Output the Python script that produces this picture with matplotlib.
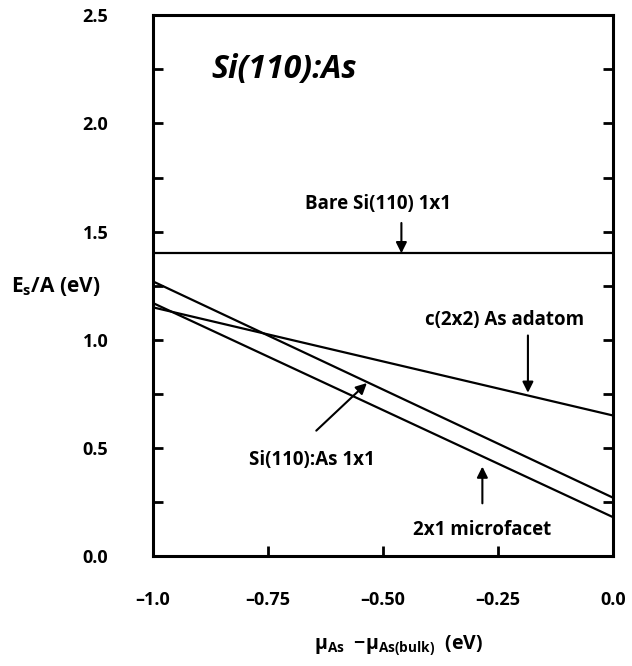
import matplotlib
matplotlib.use("Agg")
import matplotlib.pyplot as plt
from matplotlib.ticker import MultipleLocator

# chemical potential range (eV) and surface energies at both ends (eV)
mu = [-1.0, 0.0]
bare_si = [1.40, 1.40]
c2x2_adatom = [1.15, 0.65]
si_as_1x1 = [1.27, 0.27]
microfacet_2x1 = [1.17, 0.18]

xtick_vals = [-1.0, -0.75, -0.50, -0.25, 0.0]
xtick_labels = ["\u20131.0", "\u20130.75", "\u20130.50", "\u20130.25", "0.0"]
ytick_vals = [0.0, 0.5, 1.0, 1.5, 2.0, 2.5]
ytick_labels = ["0.0", "0.5", "1.0", "1.5", "2.0", "2.5"]

plt.rcParams["font.family"] = ["Open Sans", "DejaVu Sans"]
plt.rcParams["font.weight"] = "bold"
plt.rcParams["mathtext.fontset"] = "custom"
plt.rcParams["mathtext.rm"] = "Open Sans:bold"
plt.rcParams["mathtext.bf"] = "Open Sans:bold"
plt.rcParams["mathtext.it"] = "Open Sans:bold"
plt.rcParams["mathtext.default"] = "bf"

fig = plt.figure(figsize=(6.32, 6.66), dpi=100)
ax = fig.add_axes([0.242, 0.165, 0.728, 0.812])

line_kw = dict(color="black", lw=1.6, solid_capstyle="butt")
ax.plot(mu, bare_si, **line_kw)
ax.plot(mu, c2x2_adatom, **line_kw)
ax.plot(mu, si_as_1x1, **line_kw)
ax.plot(mu, microfacet_2x1, **line_kw)

ax.set_xlim(-1.0, 0.0)
ax.set_ylim(0.0, 2.5)

ax.set_xticks(xtick_vals)
ax.set_xticklabels(xtick_labels)
ax.set_yticks(ytick_vals)
ax.set_yticklabels(ytick_labels)
ax.yaxis.set_minor_locator(MultipleLocator(0.25))

ax.tick_params(axis="x", which="both", direction="in", length=7, width=2,
               top=False, bottom=True, pad=25, labelsize=13)
ax.tick_params(axis="y", which="both", direction="in", length=7, width=2,
               left=True, right=True, pad=32, labelsize=13)
for lab in ax.get_xticklabels() + ax.get_yticklabels():
    lab.set_fontweight("bold")

for sp in ax.spines.values():
    sp.set_linewidth(2.2)

ax.text(-0.714, 2.25, "Si(110):As", fontsize=23, fontweight="bold",
        style="italic", ha="center", va="center")

arrow_kw = dict(arrowstyle="-|>", color="black", lw=1.5, mutation_scale=16,
                shrinkA=0, shrinkB=0)
txt_kw = dict(fontsize=13.5, fontweight="bold", ha="center", va="center")

ax.annotate("", xy=(-0.46, 1.40), xytext=(-0.46, 1.54), arrowprops=arrow_kw)
ax.text(-0.51, 1.63, "Bare Si(110) 1x1", **txt_kw)

ax.annotate("", xy=(-0.185, 0.755), xytext=(-0.185, 1.02), arrowprops=arrow_kw)
ax.text(-0.235, 1.093, "c(2x2) As adatom", **txt_kw)

ax.annotate("", xy=(-0.535, 0.80), xytext=(-0.645, 0.58), arrowprops=arrow_kw)
ax.text(-0.655, 0.444, "Si(110):As 1x1", **txt_kw)

ax.annotate("", xy=(-0.284, 0.414), xytext=(-0.284, 0.244), arrowprops=arrow_kw)
ax.text(-0.284, 0.12, "2x1 microfacet", **txt_kw)

fig.text(56 / 632, 1 - 287 / 666, r"$E_{\rm s}$/A (eV)", fontsize=15,
         fontweight="bold", ha="center", va="center")
fig.text(399 / 632, 1 - 646 / 666,
         r"$\mu_{\rm As}$  $-\mu_{\rm As(bulk)}$  (eV)",
         fontsize=14, fontweight="bold", ha="center", va="center")

fig.savefig("out.png", dpi=100, facecolor="white")
